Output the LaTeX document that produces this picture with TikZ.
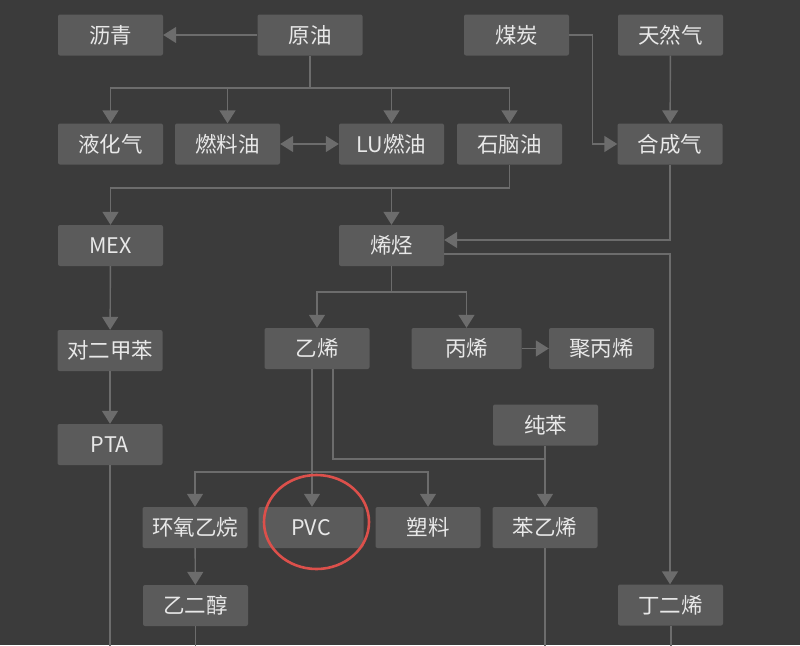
\documentclass[tikz,border=0pt]{standalone}
\usepackage{fontspec}
\newfontfamily\cjk{Noto Sans CJK SC}
\usetikzlibrary{arrows.meta}
\definecolor{bg}{HTML}{3B3B3B}
\definecolor{boxc}{HTML}{5B5B5B}
\definecolor{linec}{HTML}{6C6C6C}
\definecolor{txt}{HTML}{E8E8E8}
\definecolor{hl}{HTML}{DC504B}
\tikzset{
  box/.style={fill=boxc, rounded corners=2pt, minimum width=105pt, minimum height=41pt, inner sep=0pt, text=txt, font=\cjk\fontsize{21.5}{21.5}\selectfont},
  conn/.style={draw=linec, line width=1.4pt},
  ar/.style={conn, -{Triangle[width=16pt,length=13pt]}},
  dar/.style={conn, {Triangle[width=16pt,length=13pt]}-{Triangle[width=16pt,length=13pt]}},
  hlring/.style={draw=hl, line width=2.6pt}
}
\begin{document}
\begin{tikzpicture}[x=1pt,y=-1pt]
\fill[bg] (0,0) rectangle (800,645);
\useasboundingbox (0,0) rectangle (800,645);
% nodes
\node[box] (liqing) at (110.5,35) {沥青};
\node[box] (yuanyou) at (310,35) {原油};
\node[box] (meitan) at (516.5,35) {煤炭};
\node[box] (tianran) at (670.5,35) {天然气};
\node[box] (yehua) at (110.5,144) {液化气};
\node[box] (ranliao) at (227.5,144) {燃料油};
\node[box] (lu) at (391.5,144) {LU燃油};
\node[box] (shinao) at (509.5,144) {石脑油};
\node[box] (hecheng) at (670,144) {合成气};
\node[box] (mex) at (110.5,245.5) {MEX};
\node[box] (xiting) at (391.5,245.5) {烯烃};
\node[box] (duier) at (110,350.5) {对二甲苯};
\node[box] (yixi) at (317,348.5) {乙烯};
\node[box, minimum width=110pt] (bingxi) at (466.5,348.5) {丙烯};
\node[box] (jubing) at (601.5,348.5) {聚丙烯};
\node[box] (chunben) at (545.5,425) {纯苯};
\node[box] (pta) at (110,444.5) {PTA};
\node[box] (huanyang) at (195,527.5) {环氧乙烷};
\node[box] (pvc) at (311,527.5) {PVC};
\node[box] (suliao) at (428,527.5) {塑料};
\node[box] (benyixi) at (545,527.5) {苯乙烯};
\node[box] (yierchun) at (195.5,605.5) {乙二醇};
\node[box] (dinger) at (670.5,605) {丁二烯};
% junctions
\coordinate (j1) at (310,88);
\coordinate (j2) at (509.5,188);
\coordinate (j3) at (391.5,292);
\coordinate (j4) at (312,472);
\coordinate (j5) at (333,459);
\coordinate (j6) at (545,459);
\coordinate (e1) at (110,646);
\coordinate (e2) at (195.5,646);
\coordinate (e3) at (545,646);
\coordinate (e4) at (671,646);
% connectors
\draw[ar] (yuanyou) -- (liqing);
\draw[conn] (yuanyou.south) -- (j1);
\draw[ar] (j1) -| (yehua.north);
\draw[ar] (j1) -| (ranliao.north);
\draw[ar] (j1) -| (lu.north);
\draw[ar] (j1) -| (shinao.north);
\draw[dar] (ranliao) -- (lu);
\draw[ar] (meitan.east) -- ++(23,0) |- (hecheng.west);
\draw[ar] (tianran) -- (hecheng);
\draw[conn] (shinao.south) -- (j2);
\draw[ar] (j2) -| (mex.north);
\draw[ar] (j2 -| xiting.north) -- (xiting.north);
\draw[ar] (hecheng.south) |- ([yshift=5.5pt]xiting.east);
\draw[ar] ([yshift=-8.5pt]xiting.east) -| (dinger.north -| hecheng.south);
\draw[conn] (xiting.south) -- (j3);
\draw[ar] (j3) -| (yixi.north);
\draw[ar] (j3) -| (bingxi.north);
\draw[ar] (bingxi) -- (jubing);
\draw[ar] (mex) -- (duier);
\draw[ar] (duier) -- (pta);
\draw[conn] (yixi.south -| j4) -- (j4);
\draw[ar] (j4) -- (pvc.north -| j4);
\draw[ar] (j4) -| (huanyang.north);
\draw[ar] (j4) -| (suliao.north);
\draw[conn] (yixi.south -| j5) -- (j5) -- (j6);
\draw[ar] (chunben.south -| j6) -- (benyixi.north -| j6);
\draw[ar] (huanyang) -- (yierchun);
\draw[conn] (pta) -- (e1);
\draw[conn] (yierchun) -- (e2);
\draw[conn] (benyixi.south -| e3) -- (e3);
\draw[conn] (dinger.south -| e4) -- (e4);
% highlight ring
\draw[hlring] (316.5,522) ellipse [x radius=52.5, y radius=47];
\end{tikzpicture}
\end{document}
